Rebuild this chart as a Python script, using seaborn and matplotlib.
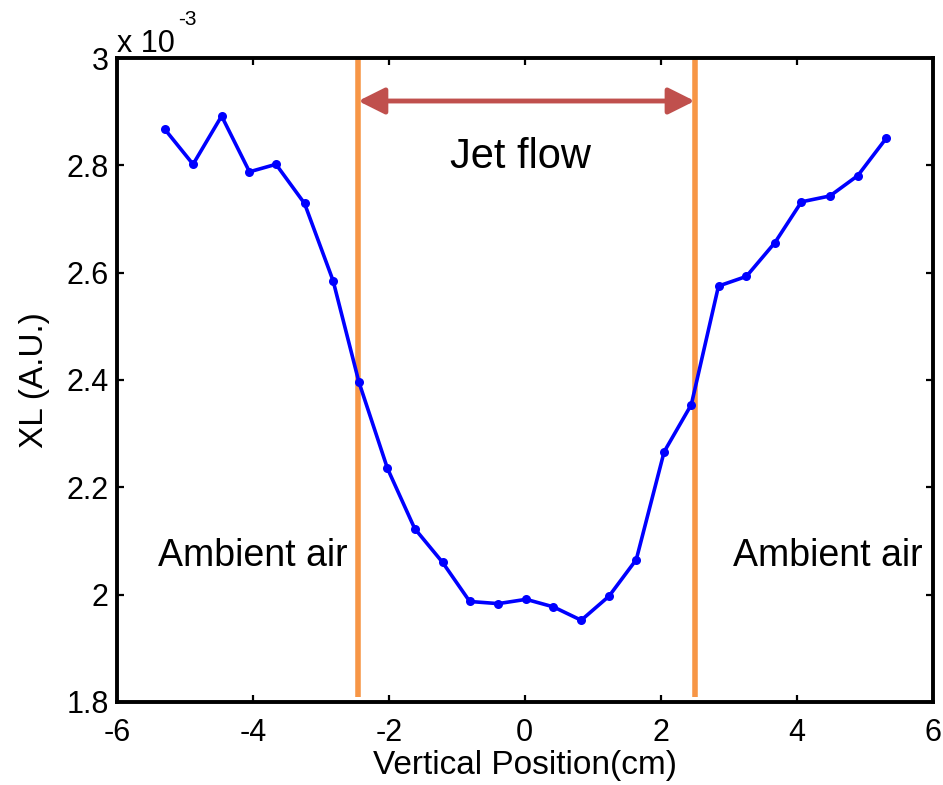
import numpy as np
import pandas as pd
import matplotlib
matplotlib.use("Agg")
import matplotlib.pyplot as plt
import seaborn as sns

# ---- data ----
positions = [-5.30, -4.88, -4.46, -4.05, -3.66, -3.24, -2.82, -2.44, -2.02, -1.62,
             -1.21, -0.81, -0.39, 0.02, 0.42, 0.83, 1.24, 1.64, 2.05, 2.45,
             2.85, 3.26, 3.68, 4.07, 4.49, 4.90, 5.32]
xl_values = [2.868, 2.802, 2.892, 2.788, 2.802, 2.729, 2.585, 2.396, 2.235, 2.123,
             2.060, 1.987, 1.983, 1.991, 1.977, 1.952, 1.997, 2.065, 2.266, 2.354,
             2.575, 2.593, 2.656, 2.732, 2.743, 2.781, 2.851]   # x 10^-3
jet_boundaries = [-2.45, 2.50]
x_ticks = [-6, -4, -2, 0, 2, 4, 6]
x_tick_labels = ["-6", "-4", "-2", "0", "2", "4", "6"]
y_ticks = [1.8, 2.0, 2.2, 2.4, 2.6, 2.8, 3.0]
y_tick_labels = ["1.8", "2", "2.2", "2.4", "2.6", "2.8", "3"]

sns.set_style("white")
plt.rcParams["font.family"] = ["Liberation Sans", "DejaVu Sans"]
plt.rcParams["text.color"] = "black"
plt.rcParams["axes.labelcolor"] = "black"
plt.rcParams["xtick.color"] = "black"
plt.rcParams["ytick.color"] = "black"

fig = plt.figure(figsize=(9.43, 7.85), dpi=100)
ax = fig.add_axes([0.124, 0.106, 0.865, 0.820])

df = pd.DataFrame({"pos": positions, "xl": xl_values})
sns.lineplot(data=df, x="pos", y="xl", ax=ax, color="#0000FF", linewidth=2.6,
             marker="o", markersize=6.5, markeredgewidth=0, sort=False, zorder=3)

for b in jet_boundaries:
    ax.plot([b, b], [1.808, 3.0], color="#F79646", linewidth=4, zorder=2,
            solid_capstyle="butt")

ax.annotate("", xy=(jet_boundaries[0], 2.92), xytext=(jet_boundaries[1], 2.92),
            arrowprops=dict(arrowstyle="<|-|>,head_length=0.8,head_width=0.4",
                            color="#C0504D", lw=3.5, shrinkA=0, shrinkB=0,
                            mutation_scale=20), zorder=4)

ax.text(-0.06, 2.815, "Jet flow", fontsize=30, ha="center", va="center", color="black")
ax.text(-4.0, 2.072, "Ambient air", fontsize=27, ha="center", va="center", color="black")
ax.text(4.46, 2.072, "Ambient air", fontsize=27, ha="center", va="center", color="black")

ax.set_xlim(-6, 6)
ax.set_ylim(1.8, 3.0)
ax.set_xticks(x_ticks)
ax.set_xticklabels(x_tick_labels)
ax.set_yticks(y_ticks)
ax.set_yticklabels(y_tick_labels)
ax.tick_params(direction="in", length=5, width=1.6, labelsize=22, top=True,
               right=True, bottom=True, left=True, colors="black")
ax.tick_params(axis="x", labeltop=False, pad=12)
ax.tick_params(axis="y", labelright=False, pad=6)
for s in ax.spines.values():
    s.set_visible(True)
    s.set_linewidth(2.8)
    s.set_color("black")

ax.set_xlabel("Vertical Position(cm)", fontsize=24, labelpad=1, color="black")
ax.set_ylabel("XL (A.U.)", fontsize=24, labelpad=12, color="black")

fig.text(117 / 943, 1 - 52 / 785, "x 10", fontsize=22, ha="left", va="baseline", color="black")
fig.text(178 / 943, 1 - 25 / 785, "-3", fontsize=15, ha="left", va="baseline", color="black")

fig.savefig("out.png", dpi=100, facecolor="white")
